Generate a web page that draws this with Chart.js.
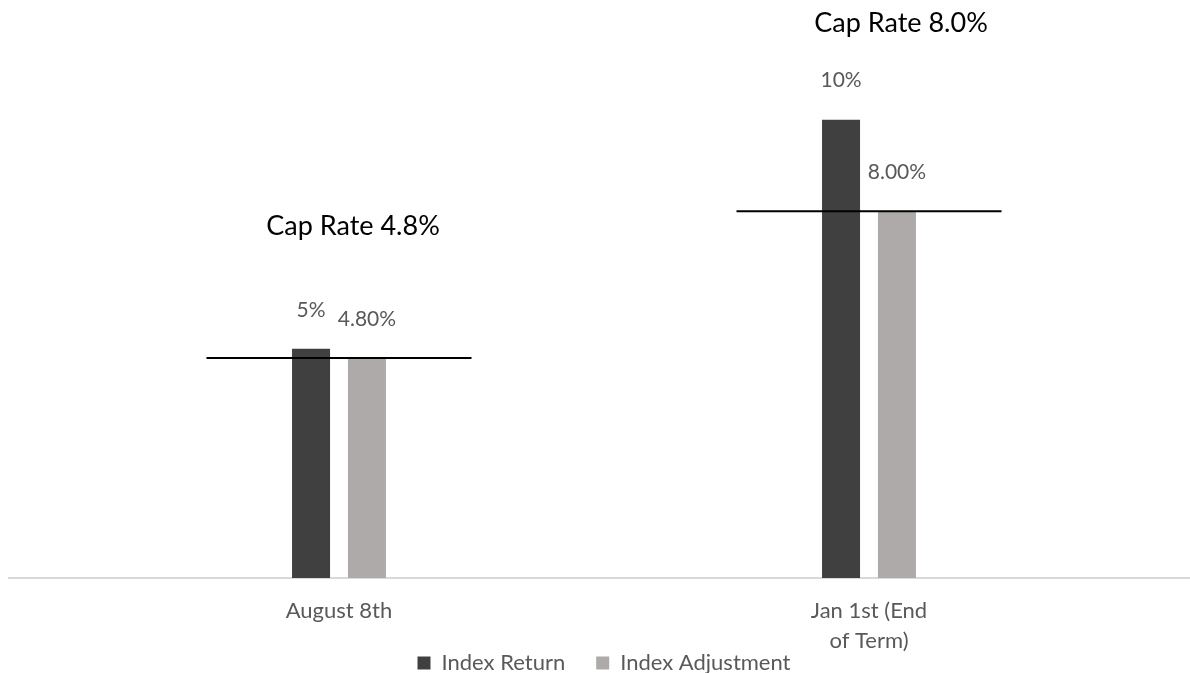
<!DOCTYPE html>
<html><head><meta charset="utf-8">
<script src="https://cdn.jsdelivr.net/npm/chart.js@4.4.0/dist/chart.umd.min.js"></script>
<style>html,body{margin:0;padding:0;background:#fff;overflow:hidden;}</style>
</head><body>
<canvas id="c" width="1190" height="673"></canvas>
<script>
const categories = [['August 8th'], ['Jan 1st (End', 'of Term)']];
const seriesNames = ['Index Return', 'Index Adjustment'];
const indexReturn = [5, 10];
const indexAdjustment = [4.8, 8.0];
const labelDecimals = [0, 2];
const capRates = [4.8, 8.0];
const capRateLabels = ['Cap Rate 4.8%', 'Cap Rate 8.0%'];

const FONT = 'Lato, "Open Sans", sans-serif';
const GREY_TEXT = '#595959';

const capPlugin = {
  id: 'capRates',
  afterLayout(chart) {
    // let the two-line category labels run below the axis box
    chart.scales.x.bottom = chart.height;
  },
  beforeDatasetsDraw(chart) {
    const {ctx} = chart;
    const y = chart.scales.y.getPixelForValue(0);
    ctx.save();
    ctx.strokeStyle = '#D9D9D9';
    ctx.lineWidth = 2;
    ctx.beginPath();
    ctx.moveTo(8, y);
    ctx.lineTo(chart.width, y);
    ctx.stroke();
    ctx.restore();
  },
  afterDatasetsDraw(chart, args, opts) {
    const {ctx} = chart;
    const xs = chart.scales.x, ys = chart.scales.y;
    ctx.save();
    ctx.font = '21px ' + FONT;
    ctx.fillStyle = GREY_TEXT;
    ctx.textAlign = 'center';
    ctx.textBaseline = 'middle';
    chart.data.datasets.forEach((ds, di) => {
      const meta = chart.getDatasetMeta(di);
      meta.data.forEach((bar, i) => {
        ctx.fillText(ds.data[i].toFixed(labelDecimals[di]) + '%', bar.x, bar.y - 39);
      });
    });
    ctx.restore();
    const catW = xs.getPixelForValue(1) - xs.getPixelForValue(0);
    ctx.save();
    capRates.forEach((v, i) => {
      const cx = xs.getPixelForValue(i);
      const y = ys.getPixelForValue(v);
      ctx.strokeStyle = '#000';
      ctx.lineWidth = 2;
      ctx.beginPath();
      ctx.moveTo(cx - catW / 4, y);
      ctx.lineTo(cx + catW / 4, y);
      ctx.stroke();
      const off = opts.titleOffsets[i];
      ctx.font = '27px ' + FONT;
      ctx.fillStyle = '#000';
      ctx.textAlign = 'center';
      ctx.textBaseline = 'middle';
      ctx.fillText(capRateLabels[i], cx + off[0], y - off[1]);
    });
    ctx.restore();
  }
};

new Chart(document.getElementById('c'), {
  type: 'bar',
  data: {
    labels: categories,
    datasets: [
      { label: seriesNames[0], data: indexReturn, backgroundColor: '#404040',
        categoryPercentage: 0.211, barPercentage: 0.68 },
      { label: seriesNames[1], data: indexAdjustment, backgroundColor: '#AEAAAA',
        categoryPercentage: 0.211, barPercentage: 0.68 }
    ]
  },
  plugins: [capPlugin],
  options: {
    responsive: false,
    animation: false,
    devicePixelRatio: 1,
    layout: { padding: { left: 74, right: 56, top: 28, bottom: -11 } },
    scales: {
      x: {
        grid: { display: false },
        border: { display: false },
        ticks: { color: GREY_TEXT, padding: 10, maxRotation: 0,
                  font: { family: FONT, size: 22, lineHeight: '30px' } },
        afterFit(scale) { scale.height = 43; }
      },
      y: { display: false, min: 0, max: 12 }
    },
    plugins: {
      tooltip: { enabled: false },
      capRates: { titleOffsets: [[14, 132], [32, 188]] },
      legend: {
        position: 'bottom',
        labels: { color: GREY_TEXT, boxWidth: 13, boxHeight: 13, padding: 31,
                  font: { family: FONT, size: 22 } }
      }
    }
  }
});
</script>
</body></html>
